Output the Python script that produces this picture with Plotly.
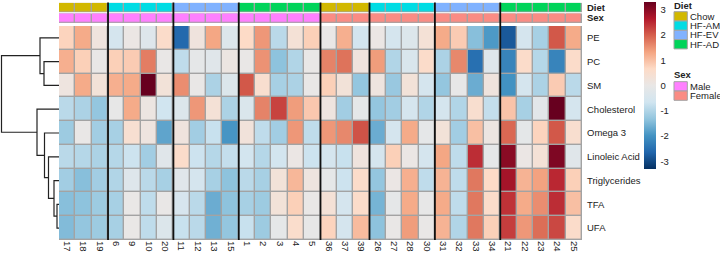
import plotly.graph_objects as go

W, H = 720, 256

# ---------------- data ----------------
col_labels = ["17", "18", "19", "6", "9", "10", "20", "11", "12", "13", "15",
              "1", "2", "3", "4", "5", "36", "37", "39", "26", "27", "28", "30",
              "31", "32", "33", "34", "21", "22", "23", "24", "25"]
diet_per_col = (["Chow"] * 3 + ["HF-AM"] * 4 + ["HF-EV"] * 4 + ["HF-AD"] * 5 +
                ["Chow"] * 3 + ["HF-AM"] * 4 + ["HF-EV"] * 4 + ["HF-AD"] * 5)
sex_per_col = ["Male"] * 16 + ["Female"] * 16

row_labels = ["PE", "PC", "SM", "Cholesterol", "Omega 3", "Linoleic Acid",
              "Triglycerides", "TFA", "UFA"]

pe = [0.75, 1.25, 0.2, -0.55, 0.05, -0.3, 0.6, -2.6, 0.2, 1.3, -0.35,
      0.65, 1.45, -0.9, 0.35, 0.8, 0.0, 1.2, -0.6, 0.05, -0.55, -0.35, 0.35,
      1.25, 0.85, -1.4, -1.9, -2.8, -0.55, -1.1, 2.05, 1.25]
pc = [1.2, 0.8, 0.0, 0.8, 0.85, 1.7, 0.0, -0.85, -0.1, -0.25, 0.1,
      0.0, 1.5, -1.35, -1.0, 0.0, 1.65, 1.8, 0.2, 1.4, -1.0, -0.45, 0.6,
      -1.05, 1.6, -2.5, -0.3, -2.2, 0.6, -0.95, -2.2, 0.6]
sm = [0.15, 1.25, 0.3, 1.2, 1.25, 3.3, 0.3, 1.55, 0.0, -1.05, -0.35,
      2.05, 0.5, -1.1, -1.05, 0.0, 0.8, 0.3, -1.3, 0.15, -1.25, 0.3, -0.55,
      -1.3, -0.05, -1.65, 0.2, -2.0, -0.55, -1.05, 0.85, -0.9]
cholesterol = [-0.9, -1.05, -1.3, -0.05, 1.25, 0.1, -0.65, -0.35, 1.45, 0.35, -1.05,
               -0.4, 1.65, 2.25, 1.4, 0.9, 0.15, -1.15, -0.1, -1.3, -1.15, -0.55, -1.0,
               -0.55, -1.0, 0.5, -0.8, 0.95, -1.1, -0.2, 3.3, -0.55]
omega3 = [-1.2, 0.0, -1.15, -1.1, 0.45, 0.15, -1.75, 0.2, -1.15, -0.75, -1.95,
          0.25, -0.85, -1.15, 1.45, -0.85, 1.45, 1.6, 2.1, -1.65, -0.55, 1.25, -0.1,
          0.3, -1.15, 1.0, 0.1, 1.9, -0.15, 0.75, 2.05, 0.5]
linoleic = [-0.9, -0.95, -1.05, -0.95, -0.7, -1.15, -0.25, 0.6, -0.7, -0.95, -0.8,
            -0.6, -0.95, -0.6, 0.05, -0.7, -0.55, -0.75, 0.2, -0.55, 0.8, 0.05, -0.55,
            1.3, -0.85, 2.45, -0.1, 3.0, 0.05, 0.35, 3.1, -0.25]
triglycerides = [-1.15, -1.4, -1.15, -1.0, -0.3, -0.9, -1.1, -0.25, -0.55, -1.1, -1.35,
                 -0.9, -1.1, 0.3, 1.1, 0.15, -0.1, -0.7, 0.6, -1.3, 0.05, 1.2, -0.85,
                 1.15, -0.85, 1.75, 0.65, 2.75, 1.15, 1.35, 2.5, 0.8]
tfa = [-1.4, -1.35, -1.2, -1.1, 0.0, -0.85, 0.0, -0.5, -0.9, -1.65, -1.35,
       -1.1, -1.2, 0.3, 0.8, 0.0, 0.35, -0.55, 0.6, -1.55, -0.1, 1.25, -0.05,
       1.25, -0.85, 1.75, 0.6, 2.4, 1.25, 1.55, 2.45, 1.0]
ufa = [-1.45, -1.3, -1.2, -1.1, 0.0, -0.85, -0.35, -0.75, -0.9, -1.6, -1.3,
       -0.75, -1.2, -0.1, 0.55, -0.05, 0.75, -0.55, 1.05, -1.35, 0.0, 1.4, 0.0,
       1.15, -1.0, 1.75, 0.8, 2.3, 1.45, 1.85, 2.2, 0.6]

values = [pe, pc, sm, cholesterol, omega3, linoleic, triglycerides, tfa, ufa]

# row dendrogram (linkage style: leaves 0..8, merge k -> id 9+k)
dend_merges = [(7, 8, 2.0), (6, 9, 5.0), (1, 2, 15.0), (5, 10, 10.5),
               (4, 12, 14.5), (0, 11, 19.0), (3, 13, 22.0), (14, 15, 57.5)]

diet_levels = ["Chow", "HF-AM", "HF-EV", "HF-AD"]
diet_colors = ["#D2B800", "#00DCE4", "#80B2FF", "#00D45A"]
sex_levels = ["Male", "Female"]
sex_colors = ["#FF80FF", "#FA8C84"]

colorbar_ticks = [3, 2, 1, 0, -1, -2, -3]
zlim = 3.3

# ---------------- helpers ----------------
def fx(p):
    return p / W


def fy(p):
    return 1 - p / H


rdbu = ["#053061", "#2166AC", "#4393C3", "#92C5DE", "#D1E5F0", "#E9E7E6",
        "#FDDBC7", "#F4A582", "#D6604D", "#B2182B", "#67001F"]
colorscale = [[i / (len(rdbu) - 1), c] for i, c in enumerate(rdbu)]

GRID = "#A3A3A3"
FONT = "Liberation Sans, Arial, sans-serif"
TXT = "#222222"


def step_scale(colors):
    n = len(colors)
    cs = []
    for i, c in enumerate(colors):
        cs.append([i / n, c])
        cs.append([(i + 1) / n, c])
    return cs


ncol = len(col_labels)
nrow = len(row_labels)
xs = list(range(ncol))
ys = list(range(nrow))

fig = go.Figure()


# grey underlay giving the cell borders
def underlay(yref, ny):
    fig.add_trace(go.Heatmap(
        x=xs, y=list(range(ny)), z=[[0] * ncol for _ in range(ny)],
        colorscale=[[0, GRID], [1, GRID]], showscale=False, hoverinfo="skip",
        xaxis="x", yaxis=yref))


underlay("y", nrow)
fig.add_trace(go.Heatmap(
    x=xs, y=ys, z=values, colorscale=colorscale, zmin=-zlim, zmax=zlim,
    xgap=1.4, ygap=1.4, xaxis="x", yaxis="y",
    colorbar=dict(x=fx(643.5), xanchor="left", y=fy(2), yanchor="top",
                  len=167, lenmode="pixels", thickness=12, thicknessmode="pixels",
                  outlinewidth=0, xpad=0, ypad=0,
                  tickvals=colorbar_ticks, ticktext=[str(t) for t in colorbar_ticks],
                  ticks="outside", ticklen=3, tickcolor="rgba(0,0,0,0)",
                  tickfont=dict(size=9.5, color=TXT, family=FONT))))

# annotation rows
sex_codes = [sex_levels.index(s) for s in sex_per_col]
diet_codes = [diet_levels.index(d) for d in diet_per_col]
for yref, codes, cols in (("y2", sex_codes, sex_colors), ("y3", diet_codes, diet_colors)):
    underlay(yref, 1)
    fig.add_trace(go.Heatmap(
        x=xs, y=[0], z=[codes], colorscale=step_scale(cols),
        zmin=-0.5, zmax=len(cols) - 0.5, showscale=False,
        xgap=1.4, ygap=1.4, xaxis="x", yaxis=yref))

# dendrogram
pos = {i: float(i) for i in range(nrow)}
hgt = {i: 0.0 for i in range(nrow)}
dx, dy = [], []
for k, (a, b, h) in enumerate(dend_merges):
    dx += [hgt[a], h, h, hgt[b], None]
    dy += [pos[a], pos[a], pos[b], pos[b], None]
    pos[nrow + k] = (pos[a] + pos[b]) / 2
    hgt[nrow + k] = h
fig.add_trace(go.Scatter(x=dx, y=dy, mode="lines", xaxis="x2", yaxis="y",
                         line=dict(color="#222222", width=1.2), hoverinfo="skip",
                         showlegend=False))

# separators between diet groups
shapes = []
for j in range(1, ncol):
    if diet_per_col[j] != diet_per_col[j - 1]:
        shapes.append(dict(type="line", xref="x", yref="paper", x0=j - 0.5, x1=j - 0.5,
                           y0=fy(240), y1=fy(2.5), line=dict(color="#111111", width=1.8)))

# legends
annotations = []


def legend_block(title, levels, cols, ty, by):
    annotations.append(dict(x=fx(671.5), y=fy(ty), xref="paper", yref="paper",
                            text="<b>%s</b>" % title, showarrow=False, xanchor="left",
                            yanchor="middle", font=dict(size=9.5, color=TXT, family=FONT)))
    bh = 9.3
    for i, (lv, c) in enumerate(zip(levels, cols)):
        y0 = by + i * bh
        shapes.append(dict(type="rect", xref="paper", yref="paper",
                           x0=fx(674), x1=fx(687.3), y0=fy(y0 + bh), y1=fy(y0),
                           fillcolor=c, line=dict(color=GRID, width=1)))
        annotations.append(dict(x=fx(688.5), y=fy(y0 + bh / 2), xref="paper", yref="paper",
                                text=lv, showarrow=False, xanchor="left", yanchor="middle",
                                borderpad=0,
                                font=dict(size=9.5, color=TXT, family=FONT)))


legend_block("Diet", diet_levels, diet_colors, 5, 11.7)
legend_block("Sex", sex_levels, sex_colors, 74, 81.7)

axis_common = dict(showgrid=False, zeroline=False, showline=False)
fig.update_layout(
    width=W, height=H, margin=dict(l=0, r=0, t=0, b=0),
    paper_bgcolor="white", plot_bgcolor="white", showlegend=False,
    font=dict(family=FONT, size=9.5, color=TXT),
    xaxis=dict(domain=[fx(59), fx(582)], range=[-0.5, ncol - 0.5], anchor="y",
               tickvals=xs, ticktext=col_labels, tickangle=90, ticks="",
               tickfont=dict(size=9.5, color=TXT), automargin=False, **axis_common),
    yaxis=dict(domain=[fy(240), fy(26)], range=[nrow - 0.5, -0.5], anchor="x",
               side="right", tickvals=ys, ticktext=row_labels, ticks="",
               ticklabelstandoff=4, tickfont=dict(size=9.5, color=TXT),
               automargin=False, **axis_common),
    yaxis2=dict(domain=[fy(23), fy(13.3)], range=[0.5, -0.5], anchor="x", side="right",
                tickvals=[0], ticktext=["<b>Sex</b>"], ticks="", ticklabelstandoff=4,
                tickfont=dict(size=9.5, color=TXT), automargin=False, **axis_common),
    yaxis3=dict(domain=[fy(12.3), fy(2.7)], range=[0.5, -0.5], anchor="x", side="right",
                tickvals=[0], ticktext=["<b>Diet</b>"], ticks="", ticklabelstandoff=4,
                tickfont=dict(size=9.5, color=TXT), automargin=False, **axis_common),
    xaxis2=dict(domain=[0, fx(59)], range=[59, 0], anchor="y", visible=False,
                **axis_common),
    shapes=shapes, annotations=annotations,
)

fig.write_html("out.html", config={"displayModeBar": False},
               post_script="document.body.style.margin='0';document.body.style.padding='0';"
                           "document.body.style.overflow='hidden';")
